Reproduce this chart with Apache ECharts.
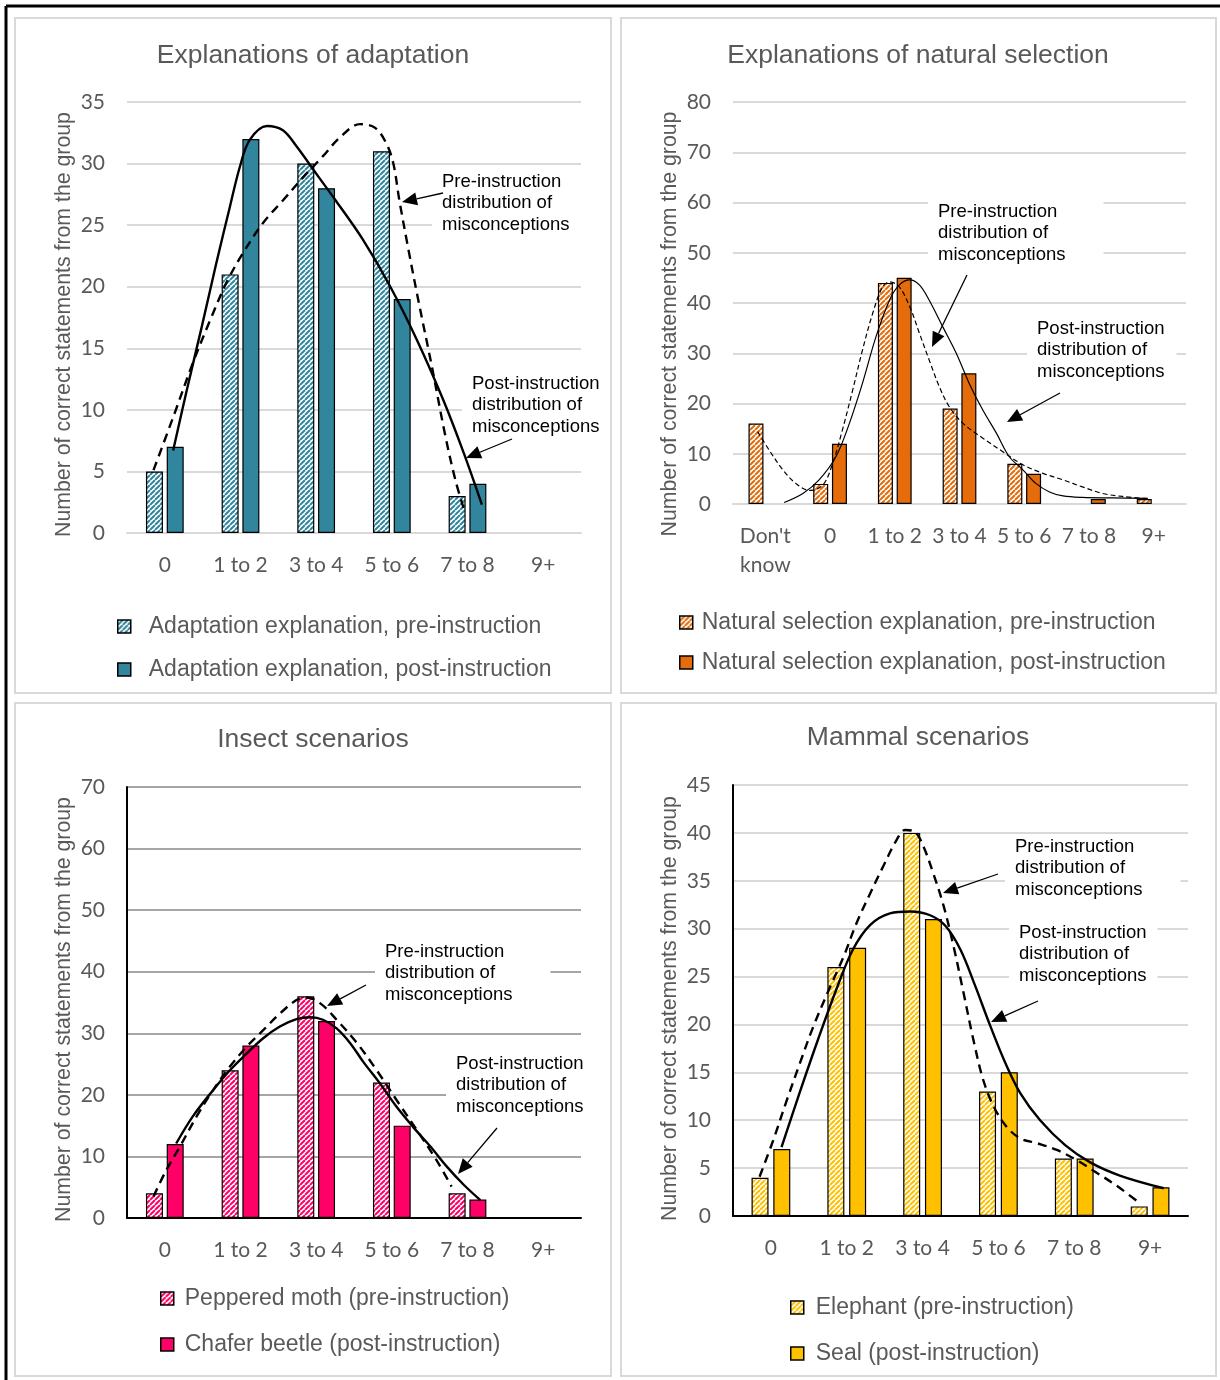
<!DOCTYPE html>
<html><head><meta charset="utf-8">
<script src="https://cdn.jsdelivr.net/npm/echarts@6/dist/echarts.min.js"></script>
<style>html,body{margin:0;padding:0;background:#fff}#c{width:1220px;height:1380px}</style>
</head><body><div id="c"></div>
<script>
// ---------- data ----------
const cats6 = ['0', '1 to 2', '3 to 4', '5 to 6', '7 to 8', '9+'];
const cats7 = ["Don't\nknow", '0', '1 to 2', '3 to 4', '5 to 6', '7 to 8', '9+'];

const titles = ['Explanations of adaptation', 'Explanations of natural selection', 'Insect scenarios', 'Mammal scenarios'];
const yName = 'Number of correct statements from the group';

const adaptPreName = 'Adaptation explanation, pre-instruction';
const adaptPostName = 'Adaptation explanation, post-instruction';
const adaptPre = [5, 21, 30, 31, 3, null];
const adaptPost = [7, 32, 28, 19, 4, null];

const natPreName = 'Natural selection explanation, pre-instruction';
const natPostName = 'Natural selection explanation, post-instruction';
const natPre = [16, 4, 44, 19, 8, null, 1];
const natPost = [null, 12, 45, 26, 6, 1, null];

const insectPreName = 'Peppered moth (pre-instruction)';
const insectPostName = 'Chafer beetle (post-instruction)';
const insectPre = [4, 24, 36, 22, 4, null];
const insectPost = [12, 28, 32, 15, 3, null];

const mammalPreName = 'Elephant (pre-instruction)';
const mammalPostName = 'Seal (post-instruction)';
const mammalPre = [4, 26, 40, 13, 6, 1];
const mammalPost = [7, 28, 31, 15, 6, 3];

// fitted distribution curves: [category position, value]
const adaptPreCurve = [[-0.15,5.1],[0.11,9.4],[0.37,13.8],[0.6,17.3],[0.82,20.4],[1.04,22.8],[1.3,25.2],[1.56,27.0],[1.83,28.9],[2.09,30.6],[2.31,32.1],[2.58,33.2],[2.78,32.9],[2.93,31.6],[3.02,30.0],[3.1,27.0],[3.22,23.0],[3.35,18.9],[3.53,13.5],[3.7,8.1],[3.84,4.3],[3.97,1.6]];
const adaptPostCurve = [[0.11,6.7],[0.29,11.6],[0.49,16.8],[0.68,21.9],[0.86,26.5],[0.99,29.7],[1.12,31.9],[1.35,33.05],[1.56,32.7],[1.74,31.4],[2.01,29.1],[2.27,26.9],[2.62,23.8],[2.98,20.0],[3.33,15.7],[3.68,10.8],[3.95,6.5],[4.19,2.3]];
const natPreCurve = [[-0.12,14.4],[0.06,10.7],[0.27,6.8],[0.47,4.1],[0.68,2.7],[0.89,3.8],[1.04,8.1],[1.19,14.7],[1.35,22.7],[1.5,30.6],[1.66,38.0],[1.81,43.2],[1.92,44.2],[2.07,43.2],[2.23,39.3],[2.38,34.0],[2.53,28.7],[2.69,23.3],[2.84,19.4],[3.05,16.1],[3.36,13.1],[3.67,10.4],[3.98,7.8],[4.29,6.1],[4.6,4.8],[4.9,3.4],[5.21,2.1],[5.52,1.5],[5.88,1.1]];
const natPostCurve = [[0.29,0.3],[0.58,2.1],[0.83,4.8],[1.09,9.4],[1.3,16.1],[1.5,24.0],[1.71,33.3],[1.92,40.6],[2.07,43.6],[2.23,44.6],[2.38,43.6],[2.53,40.6],[2.74,35.3],[2.95,30.0],[3.15,24.0],[3.36,18.7],[3.57,14.1],[3.77,9.4],[3.98,6.8],[4.18,4.1],[4.39,2.4],[4.6,1.6],[4.9,1.3],[5.37,1.2],[5.91,1.1]];
const insectPreCurve = [[-0.15,3.5],[0.02,7.8],[0.2,11.6],[0.42,16.5],[0.64,20.8],[0.86,24.6],[1.08,27.8],[1.3,30.5],[1.52,33.2],[1.74,35.4],[1.87,35.8],[2.05,34.9],[2.27,32.2],[2.54,28.4],[2.8,24.0],[3.06,19.2],[3.33,14.3],[3.59,9.4],[3.79,5.1]];
const insectPostCurve = [[0.15,12.1],[0.37,16.5],[0.64,20.8],[0.86,24.0],[1.08,26.7],[1.3,29.2],[1.52,31.1],[1.74,32.3],[1.92,32.6],[2.09,32.2],[2.27,30.8],[2.45,28.4],[2.62,25.4],[2.84,21.9],[3.06,18.1],[3.28,14.8],[3.51,11.6],[3.73,8.3],[3.95,5.4],[4.17,2.9]];
const mammalPreCurve = [[-0.15,4.1],[0.03,7.9],[0.21,12.1],[0.38,15.9],[0.56,19.8],[0.78,23.9],[0.96,27.1],[1.13,30.6],[1.31,33.7],[1.48,36.5],[1.66,39.3],[1.77,40.3],[1.9,40.1],[2.01,38.6],[2.14,35.8],[2.28,32.3],[2.41,28.1],[2.54,23.3],[2.67,18.4],[2.8,14.2],[2.94,11.4],[3.11,9.3],[3.29,8.1],[3.51,7.6],[3.77,6.9],[4.04,5.8],[4.3,4.5],[4.57,3.1],[4.87,1.3]];
const mammalPostCurve = [[0.14,7.2],[0.38,12.9],[0.62,18.4],[0.86,23.6],[1.08,27.8],[1.31,30.4],[1.57,31.6],[1.84,31.8],[2.1,31.4],[2.3,30.3],[2.5,27.8],[2.69,24.1],[2.89,19.9],[3.09,16.0],[3.29,12.8],[3.55,10.0],[3.88,7.4],[4.21,5.6],[4.61,4.2],[5.18,2.9]];

const annPre = 'Pre-instruction\ndistribution of\nmisconceptions';
const annPost = 'Post-instruction\ndistribution of\nmisconceptions';

// ---------- styling ----------
const SANS = '"Liberation Sans", Arial, sans-serif';
const TICK = 'Lato, "Open Sans", sans-serif';
const GREY = '#595959';

function hatch(color) {
  const s = 5, c = document.createElement('canvas');
  c.width = s; c.height = s;
  const g = c.getContext('2d');
  g.fillStyle = '#fff'; g.fillRect(0, 0, s, s);
  g.strokeStyle = color; g.lineWidth = 2;
  g.beginPath();
  for (let k = -1; k <= 1; k++) {
    g.moveTo(k * s, s); g.lineTo(k * s + s, 0);
  }
  g.stroke();
  return { image: c, repeat: 'repeat' };
}

const panels = [
  { cats: cats6, pre: adaptPre, post: adaptPost, preName: adaptPreName, postName: adaptPostName,
    preC: adaptPreCurve, postC: adaptPostCurve, color: '#31859C', max: 35, step: 5,
    grid: { left: 127, top: 102, width: 454, height: 431 }, bw: 17, gap: '22%',
    axisColor: '#d9d9d9', showY: false, splitColor: '#d9d9d9', thin: false,
    legend: { left: 117, top: 615, itemGap: 20, pad: 13 }, title: { x: 313, y: 42 }, nameShift: 14 },
  { cats: cats7, pre: natPre, post: natPost, preName: natPreName, postName: natPostName,
    preC: natPreCurve, postC: natPostCurve, color: '#E46C0A', max: 80, step: 10,
    grid: { left: 733, top: 102, width: 453, height: 402 }, bw: 15, gap: '25%',
    axisColor: '#d9d9d9', showY: false, splitColor: '#d9d9d9', thin: true,
    legend: { left: 679, top: 611, itemGap: 17, pad: 4 }, title: { x: 918, y: 42 }, nameShift: 42 },
  { cats: cats6, pre: insectPre, post: insectPost, preName: insectPreName, postName: insectPostName,
    preC: insectPreCurve, postC: insectPostCurve, color: '#FF0066', max: 70, step: 10,
    grid: { left: 127, top: 787, width: 454, height: 431 }, bw: 17, gap: '22%',
    axisColor: '#000', showY: true, splitColor: '#a6a6a6', thin: false,
    legend: { left: 160, top: 1287, itemGap: 23, pad: 6 }, title: { x: 313, y: 726 }, nameShift: 14 },
  { cats: cats6, pre: mammalPre, post: mammalPost, preName: mammalPreName, postName: mammalPostName,
    preC: mammalPreCurve, postC: mammalPostCurve, color: '#FFC000', max: 45, step: 5,
    grid: { left: 733, top: 785, width: 455, height: 431 }, bw: 17, gap: '28%',
    axisColor: '#000', showY: true, splitColor: '#d9d9d9', thin: false,
    legend: { left: 790, top: 1296, itemGap: 23, pad: 7 }, title: { x: 918, y: 724 }, nameShift: 16 }
];

const option = {
  animation: false,
  backgroundColor: '#fff',
  title: [], grid: [], xAxis: [], yAxis: [], legend: [], series: [], graphic: []
};

panels.forEach((p, i) => {
  option.title.push({
    text: titles[i], left: p.title.x, top: p.title.y, textAlign: 'center', padding: 0,
    textStyle: { fontFamily: SANS, fontSize: 26.5, fontWeight: 'normal', color: GREY }
  });
  option.grid.push(Object.assign({ containLabel: false }, p.grid));
  option.xAxis.push({
    type: 'category', gridIndex: i, data: p.cats,
    axisLine: { show: true, onZero: false, lineStyle: { color: p.axisColor, width: 2 } },
    axisTick: { show: false },
    axisLabel: { fontFamily: TICK, fontSize: 21, color: GREY, margin: 18, lineHeight: 29, interval: 0 }
  });
  option.yAxis.push({
    type: 'value', gridIndex: i, min: 0, max: p.max, interval: p.step,
    name: yName, nameLocation: 'middle', nameRotate: 90, nameGap: 52,
    nameTextStyle: { fontFamily: SANS, fontSize: 21.3, color: GREY, padding: [0, p.nameShift, 0, 0] },
    axisLine: { show: p.showY, onZero: false, lineStyle: { color: '#000', width: 2 } },
    axisTick: { show: false },
    axisLabel: { fontFamily: TICK, fontSize: 21, color: GREY, margin: 22 },
    splitLine: { show: true, lineStyle: { color: p.splitColor, width: 2 } }
  });
  option.legend.push({
    orient: 'vertical', left: p.legend.left, top: p.legend.top, itemGap: p.legend.itemGap,
    padding: 0, height: 120, width: 560,
    icon: 'rect', itemWidth: 13, itemHeight: 13,
    data: [p.preName, p.postName],
    textStyle: { fontFamily: SANS, fontSize: 23, color: GREY, padding: [0, 0, 0, p.legend.pad] },
    itemStyle: { borderColor: '#000', borderWidth: 1.5 }
  });
  option.series.push({
    type: 'bar', name: p.preName, xAxisIndex: i, yAxisIndex: i, data: p.pre,
    barWidth: p.bw, barGap: p.gap, silent: true,
    itemStyle: { color: hatch(p.color), borderColor: '#000', borderWidth: 1.2 }
  }, {
    type: 'bar', name: p.postName, xAxisIndex: i, yAxisIndex: i, data: p.post,
    barWidth: p.bw, barGap: p.gap, silent: true,
    itemStyle: { color: p.color, borderColor: '#000', borderWidth: 1.2 }
  });
});

// hidden continuous x axes for the fitted curves
panels.forEach((p, i) => {
  option.xAxis.push({ type: 'value', gridIndex: i, min: -0.5, max: p.cats.length - 0.5, show: false });
});
panels.forEach((p, i) => {
  option.series.push({
    type: 'line', xAxisIndex: 4 + i, yAxisIndex: i, data: p.preC, smooth: 0.35,
    showSymbol: false, silent: true, z: 5,
    lineStyle: { color: '#000', width: p.thin ? 1.2 : 2.4, type: p.thin ? [5, 3] : [9, 6] }
  }, {
    type: 'line', xAxisIndex: 4 + i, yAxisIndex: i, data: p.postC, smooth: 0.35,
    showSymbol: false, silent: true, z: 5,
    lineStyle: { color: '#000', width: p.thin ? 1.2 : 2.4 }
  });
});

// ---------- frame, panel borders and annotations ----------
const g = option.graphic;
g.push({ type: 'line', shape: { x1: 6, y1: 6, x2: 1220, y2: 6 }, style: { stroke: '#000', lineWidth: 3 } });
g.push({ type: 'line', shape: { x1: 6, y1: 6, x2: 6, y2: 1380 }, style: { stroke: '#000', lineWidth: 3 } });
[[15, 18, 596, 675], [621, 18, 595, 675], [15, 703, 596, 673], [621, 703, 595, 673]].forEach(r => {
  g.push({ type: 'rect', shape: { x: r[0], y: r[1], width: r[2], height: r[3] },
    style: { fill: null, stroke: '#d9d9d9', lineWidth: 2 }, z: 0 });
});

function note(x, y, text, padR) {
  g.push({ type: 'text', x: x - 10, y: y - 11, z: 10,
    style: { text: text, font: '18.5px ' + SANS, fill: '#000', lineHeight: 21.5,
      backgroundColor: '#fff', padding: [2, padR, 2, 10] } });
}
function arrow(x1, y1, x2, y2) {
  const dx = x2 - x1, dy = y2 - y1, L = Math.hypot(dx, dy), ux = dx / L, uy = dy / L;
  const hl = 15, hw = 6.5, bx = x2 - ux * hl, by = y2 - uy * hl;
  g.push({ type: 'line', z: 11, shape: { x1: x1, y1: y1, x2: bx, y2: by }, style: { stroke: '#000', lineWidth: 1.3 } });
  g.push({ type: 'polygon', z: 11, shape: { points: [[x2, y2], [bx - uy * hw, by + ux * hw], [bx + uy * hw, by - ux * hw]] }, style: { fill: '#000' } });
}
// panel 1
note(442, 180, annPre, 14); arrow(443, 193, 402, 202);
note(472, 382, annPost, 8); arrow(512, 439, 466, 458);
// panel 2
note(938, 210, annPre, 38); arrow(967, 275, 932, 347);
note(1037, 327, annPost, 12); arrow(1060, 393, 1007, 422);
// panel 3
note(385, 950, annPre, 38); arrow(366, 985, 327, 1006);
note(456, 1062, annPost, 6); arrow(497, 1128, 458, 1174);
// panel 4
note(1015, 845, annPre, 38); arrow(998, 874, 943, 893);
note(1019, 931, annPost, 11); arrow(1038, 1001, 991, 1022);

const chart = echarts.init(document.getElementById('c'), null, { renderer: 'canvas' });
chart.setOption(option);
</script>
</body></html>
